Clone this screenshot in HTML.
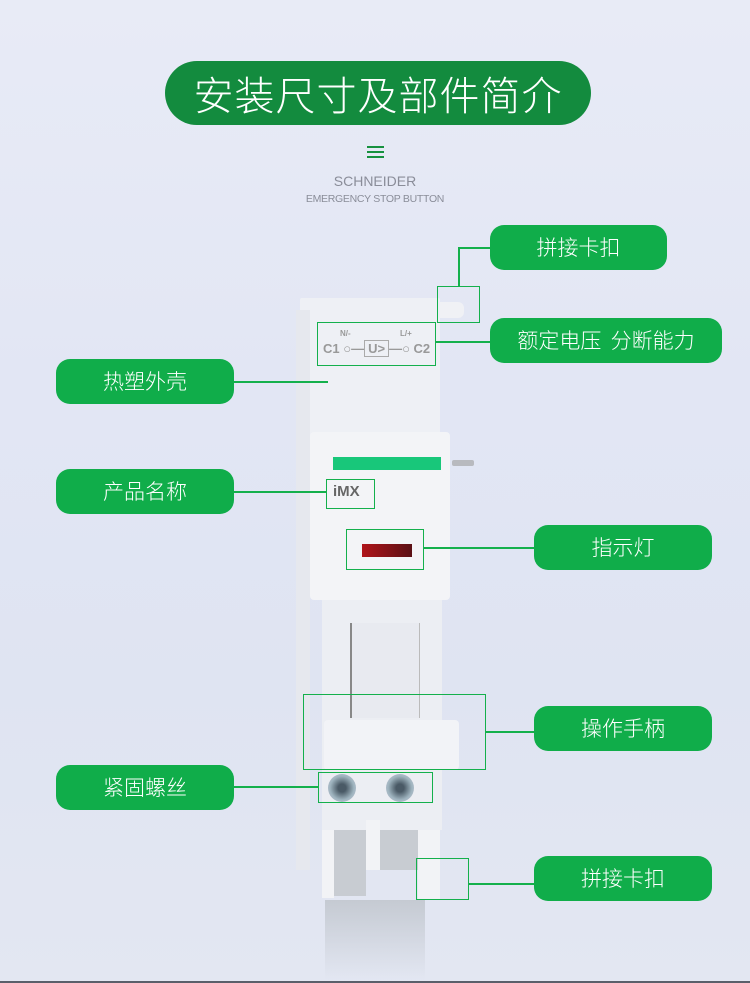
<!DOCTYPE html>
<html><head><meta charset="utf-8"><style>
*{margin:0;padding:0;box-sizing:border-box}
body{width:750px;height:983px;position:relative;overflow:hidden;background:linear-gradient(180deg,#e8ebf6 0%,#e2e6f4 40%,#dfe4f2 70%,#e3e7f2 100%);font-family:"Liberation Sans","Noto Sans CJK SC",sans-serif}
.a{position:absolute}
.pill{position:absolute;background:#10ad4a;color:#fff;border-radius:14px;height:45px;font-size:21px;line-height:45px;text-align:center;font-family:"Noto Sans CJK SC",sans-serif;font-weight:300}
.box{position:absolute;border:1.5px solid #14b04c}
.h{position:absolute;height:1.5px;background:#14b04c}
.v{position:absolute;width:1.5px;background:#14b04c}
</style></head><body>
<div class="a" style="left:165px;top:61px;width:426px;height:64px;border-radius:32px;background:#138b3e;color:#fff;font-size:40px;line-height:64px;text-align:center;font-family:'Noto Sans CJK SC',sans-serif;font-weight:300;letter-spacing:1px">安装尺寸及部件简介</div>
<div class="a" style="left:367px;top:146px;width:17px;height:2px;background:#17913f"></div>
<div class="a" style="left:367px;top:151px;width:17px;height:2px;background:#17913f"></div>
<div class="a" style="left:367px;top:156px;width:17px;height:2px;background:#17913f"></div>
<div class="a" style="left:0;top:173px;width:750px;text-align:center;color:#8a8d99;font-size:14px">SCHNEIDER</div>
<div class="a" style="left:0;top:193px;width:750px;text-align:center;color:#8a8d99;font-size:10.5px;letter-spacing:-0.3px">EMERGENCY STOP BUTTON</div>

<!-- device -->
<div class="a" style="left:300px;top:298px;width:140px;height:140px;background:#eef0f5;border-radius:2px"></div>
<div class="a" style="left:296px;top:310px;width:14px;height:560px;background:#e6e8ee"></div>
<div class="a" style="left:440px;top:302px;width:24px;height:16px;background:#f0f1f5;border-radius:0 6px 6px 0"></div>
<div class="a" style="left:310px;top:432px;width:140px;height:168px;background:#f3f4f7;border-radius:4px"></div>
<div class="a" style="left:333px;top:457px;width:108px;height:13px;background:#18c77a"></div>
<div class="a" style="left:452px;top:460px;width:22px;height:6px;background:#b8babf;border-radius:2px"></div>
<div class="a" style="left:333px;top:483px;color:#666;font-weight:bold;font-size:15px">iMX</div>
<div class="a" style="left:362px;top:544px;width:50px;height:13px;background:linear-gradient(90deg,#b0141a,#5a1015)"></div>
<div class="a" style="left:340px;top:329px;color:#999;font-size:8px;font-weight:bold">N/-</div>
<div class="a" style="left:400px;top:329px;color:#999;font-size:8px;font-weight:bold">L/+</div>
<div class="a" style="left:323px;top:341px;color:#999;font-size:13px;font-weight:bold">C1 ○—<span style="border:1px solid #aaa;padding:0 3px">U&gt;</span>—○ C2</div>
<div class="a" style="left:322px;top:600px;width:120px;height:170px;background:#eceef3"></div>
<div class="a" style="left:350px;top:623px;width:70px;height:95px;background:#e8eaf0;border-left:2px solid #888;border-right:1px solid #bbb"></div>
<div class="a" style="left:324px;top:720px;width:135px;height:50px;background:#f2f3f7;border-radius:4px"></div>
<div class="a" style="left:322px;top:770px;width:120px;height:60px;background:#eceef3"></div>
<div class="a" style="left:328px;top:774px;width:28px;height:28px;border-radius:50%;background:radial-gradient(#4a5a66 20%,#9fb4bf 60%,#ccd)"></div>
<div class="a" style="left:386px;top:774px;width:28px;height:28px;border-radius:50%;background:radial-gradient(#4a5a66 20%,#9fb4bf 60%,#ccd)"></div>
<div class="a" style="left:326px;top:830px;width:40px;height:66px;background:#c8ccd2"></div>
<div class="a" style="left:378px;top:830px;width:40px;height:40px;background:#c8ccd2"></div>
<div class="a" style="left:322px;top:830px;width:12px;height:68px;background:#f2f3f6"></div>
<div class="a" style="left:366px;top:820px;width:14px;height:50px;background:#f2f3f6"></div>
<div class="a" style="left:418px;top:830px;width:22px;height:70px;background:#f2f3f6"></div>
<div class="a" style="left:325px;top:900px;width:100px;height:80px;background:linear-gradient(180deg,#c5cad2,rgba(220,225,235,0))"></div>

<!-- boxes & lines -->
<div class="box" style="left:437px;top:286px;width:43px;height:37px"></div>
<div class="v" style="left:458px;top:247px;height:40px"></div>
<div class="h" style="left:458px;top:247px;width:32px"></div>
<div class="box" style="left:317px;top:322px;width:119px;height:44px"></div>
<div class="h" style="left:436px;top:341px;width:54px"></div>
<div class="h" style="left:233px;top:381px;width:95px"></div>
<div class="box" style="left:326px;top:479px;width:49px;height:30px"></div>
<div class="h" style="left:233px;top:491px;width:93px"></div>
<div class="box" style="left:346px;top:529px;width:78px;height:41px"></div>
<div class="h" style="left:424px;top:547px;width:110px"></div>
<div class="box" style="left:303px;top:694px;width:183px;height:76px"></div>
<div class="h" style="left:486px;top:731px;width:48px"></div>
<div class="box" style="left:318px;top:772px;width:115px;height:31px"></div>
<div class="h" style="left:233px;top:786px;width:85px"></div>
<div class="box" style="left:416px;top:858px;width:53px;height:42px"></div>
<div class="h" style="left:469px;top:883px;width:65px"></div>

<div class="pill" style="left:490px;top:225px;width:177px">拼接卡扣</div>
<div class="pill" style="left:490px;top:318px;width:232px">额定电压&nbsp; 分断能力</div>
<div class="pill" style="left:56px;top:359px;width:178px">热塑外壳</div>
<div class="pill" style="left:56px;top:469px;width:178px">产品名称</div>
<div class="pill" style="left:534px;top:525px;width:178px">指示灯</div>
<div class="pill" style="left:534px;top:706px;width:178px">操作手柄</div>
<div class="pill" style="left:56px;top:765px;width:178px">紧固螺丝</div>
<div class="pill" style="left:534px;top:856px;width:178px">拼接卡扣</div>
<div class="a" style="left:0;top:981px;width:750px;height:2px;background:#5a5f6a"></div>
</body></html>
